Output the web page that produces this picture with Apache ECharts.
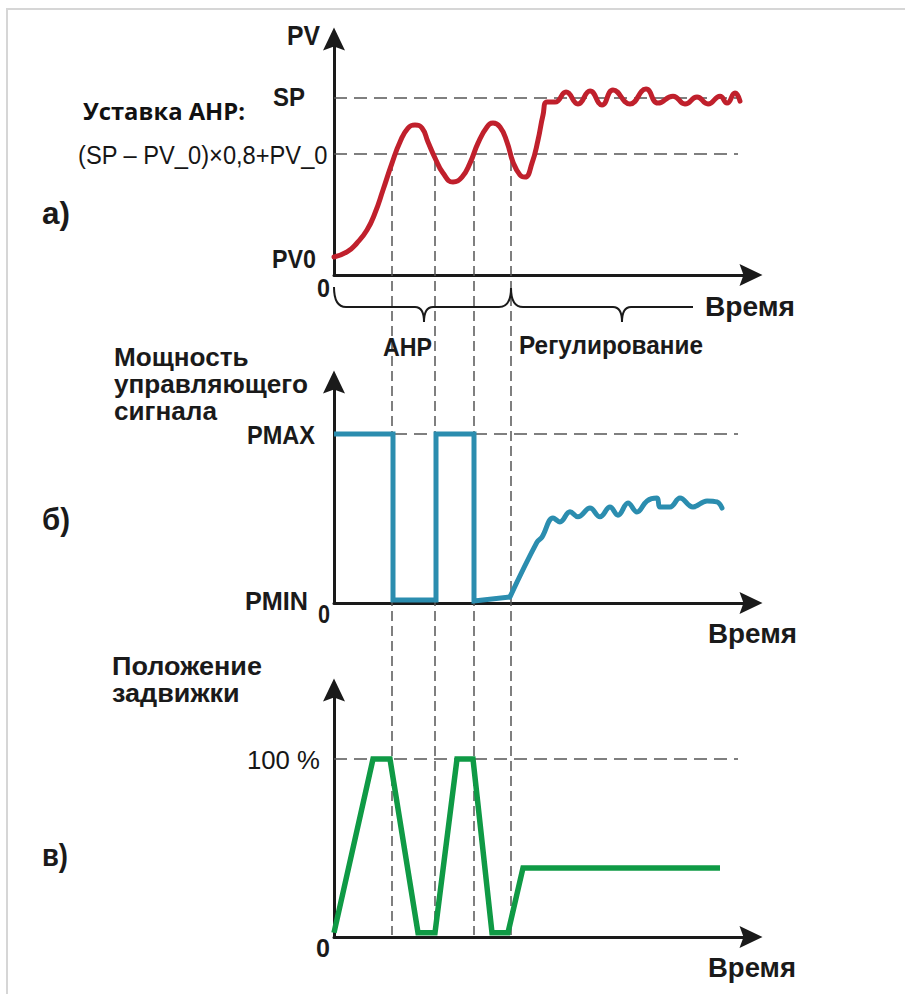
<!DOCTYPE html>
<html><head><meta charset="utf-8">
<script src="https://cdn.jsdelivr.net/npm/echarts@6/dist/echarts.min.js"></script>
<style>html,body{margin:0;padding:0;background:#fff}#c{width:905px;height:994px}</style>
</head><body><div id="c"></div>
<script>
// ---------- data (time in arbitrary units, values normalised: SP / PMAX / 100 % = 100) ----------
const pvTime  = [0, 13, 23, 33, 41, 49, 58, 66, 74, 81, 88, 94, 101, 109, 119, 128, 136, 144, 153, 159, 166, 173, 179, 186, 191, 198, 204, 209, 213, 221,
                 232, 244, 256, 268, 279, 296, 312, 324, 339, 351, 363, 374, 386, 393, 401, 406];
const pvValue = [10.2, 13, 18.1, 25.4, 35, 48, 63.2, 75.1, 83, 84.7, 83, 75.1, 66.1, 57.6, 52.5, 55.3, 63.2, 74.5, 83.6, 85.8, 83.6, 75.1, 63.8, 56.5, 55.3, 63.2, 76.2, 90.3, 97.7, 97.7,
                 103.3, 96.6, 103.9, 96, 104.5, 96.6, 105, 97.1, 101, 96.6, 100.5, 96.6, 101, 97.1, 102.8, 98.2];
const SP = 100, PV_TH = 68.3, PV0 = 10.2;

const pwStepTime  = [0, 59, 59, 102, 102, 140, 140, 176];
const pwStepValue = [100, 100, 1.8, 1.8, 100, 100, 1.2, 3.6];
const pwRegTime   = [176, 203, 208, 219, 226, 236, 244, 256, 266, 276, 284, 294, 303, 313, 323, 326, 336, 346, 359, 373, 383, 388];
const pwRegValue  = [3.6, 36, 39, 50.3, 48, 54, 51, 56.2, 51, 56.8, 52, 59.2, 53.8, 60.4, 62.1, 56.8, 56.8, 62.1, 56.8, 60.4, 59.8, 56.2];
const PMAX = 100;

const vTime  = [0, 39, 56, 84, 101, 123, 139, 158, 174, 189, 386];
const vValue = [2.4, 100, 100, 2.4, 2.4, 100, 100, 2.4, 2.4, 38.8, 38.8];
const V100 = 100;

const markTimes = [58, 101, 140, 177];      // vertical dashed guides
const braceTimes = [0, 177, 359];           // АНР / Регулирование brace ends
const braceTips = [90, 288];
const refEnd = 404;                         // end of horizontal dashed lines
const T_MAX = 417;
const yMax = [133.3, 130.8, 138.8];

const labels = {
  pv: 'PV', sp: 'SP', ust: 'Уставка АНР:', formula: '(SP – PV_0)×0,8+PV_0', pv0: 'PV0', zero: '0',
  a: 'а)', b: 'б)', c: 'в)', time: 'Время', anr: 'АНР', reg: 'Регулирование',
  power: 'Мощность\nуправляющего\nсигнала', pmax: 'PMAX', pmin: 'PMIN',
  valve: 'Положение\nзадвижки', p100: '100 %'
};

// ---------- styles ----------
const SANS = "'Liberation Sans', Arial, sans-serif";
const B26 = 'bold 26px ' + SANS, B28 = 'bold 28px ' + SANS, B31 = 'bold 31px ' + SANS;
const INK = '#1a1a1a';
const RED = '#c0202c', BLUE = '#2b8daf', GREEN = '#0f9a45', DASH = '#555';
const ARROW = 'path://M11,0 L22,23 L11,19 L0,23 Z';

const zip = (a, b) => a.map((v, i) => [v, b[i]]);
const grids = [
  {left: 334, top: 39, width: 417, height: 236},
  {left: 334, top: 382, width: 417, height: 221},
  {left: 334, top: 690, width: 417, height: 247}
];
const axisLine = {show: true, onZero: false, symbol: ['none', ARROW], symbolSize: [22, 23],
  lineStyle: {color: INK, width: 3}};
const xAxes = grids.map((g, i) => ({gridIndex: i, type: 'value', min: 0, max: T_MAX,
  axisLine, axisTick: {show: false}, axisLabel: {show: false}, splitLine: {show: false}}));
const yAxes = grids.map((g, i) => ({gridIndex: i, type: 'value', min: 0, max: yMax[i],
  axisLine, axisTick: {show: false}, axisLabel: {show: false}, splitLine: {show: false}}));

const refLine = (i, v) => ({type: 'line', xAxisIndex: i, yAxisIndex: i, data: [[0, v], [refEnd, v]],
  symbol: 'none', silent: true, z: 1, lineStyle: {color: DASH, width: 1.5, type: [13, 7]}});

const chart = echarts.init(document.getElementById('c'), null, {renderer: 'svg'});
chart.setOption({
  animation: false,
  backgroundColor: '#fff',
  grid: grids,
  xAxis: xAxes,
  yAxis: yAxes,
  series: [
    refLine(0, SP), refLine(0, PV_TH), refLine(1, PMAX), refLine(2, V100),
    {type: 'line', xAxisIndex: 0, yAxisIndex: 0, data: zip(pvTime, pvValue), smooth: 0.5,
      symbol: 'none', z: 3, lineStyle: {color: RED, width: 5, cap: 'round', join: 'round'}},
    {type: 'line', xAxisIndex: 1, yAxisIndex: 1, data: zip(pwStepTime, pwStepValue),
      symbol: 'none', z: 3, lineStyle: {color: BLUE, width: 5, cap: 'butt', join: 'miter'}},
    {type: 'line', xAxisIndex: 1, yAxisIndex: 1, data: zip(pwRegTime, pwRegValue), smooth: 0.4,
      symbol: 'none', z: 3, lineStyle: {color: BLUE, width: 5, cap: 'round', join: 'round'}},
    {type: 'line', xAxisIndex: 2, yAxisIndex: 2, data: zip(vTime, vValue),
      symbol: 'none', z: 3, lineStyle: {color: GREEN, width: 5.5, cap: 'butt', join: 'miter'}}
  ]
});

// ---------- annotations positioned through the axes' scales ----------
const px = (i, t, v) => chart.convertToPixel({gridIndex: i}, [t, v]);
const g = [];
const mctx = document.createElement('canvas').getContext('2d');
const widest = (s, font) => { mctx.font = font; return Math.max(...s.split('\n').map(l => mctx.measureText(l).width)); };
// text placed from its left edge, squeezed horizontally to the width it has in the reference
const txt = (x, y, s, font, w, o) => g.push({type: 'text', z: 10, x, y,
  scaleX: w ? w / widest(s, font) : 1,
  style: Object.assign({text: s, fill: INK, font, textAlign: 'left', textVerticalAlign: 'middle'}, o || {})});
const BR = {fill: 'none', stroke: INK, lineWidth: 2};
const seg = (x1, y1, x2, y2) => g.push({type: 'line', z: 10, shape: {x1, y1, x2, y2}, style: BR});
const qc = (x1, y1, cx, cy, x2, y2) => g.push({type: 'bezierCurve', z: 10,
  shape: {x1, y1, cpx1: cx, cpy1: cy, x2, y2}, style: BR});

// frame
g.push({type: 'rect', z: 0, shape: {x: 7, y: 9, width: 1000, height: 1100},
  style: {fill: 'none', stroke: '#d6d6d6', lineWidth: 2}});

// vertical guides
const yTop = px(0, 0, PV_TH)[1] + 7, yBot = px(2, 0, 0)[1] - 2;
markTimes.forEach(t => {
  const x = px(0, t, 0)[0];
  g.push({type: 'line', z: 1, shape: {x1: x, y1: yTop, x2: x, y2: yBot},
    style: {stroke: DASH, lineWidth: 1.5, lineDash: [10, 5]}});
});

// braces
const ax = px(0, 0, 0)[1];
const b0 = px(0, braceTimes[0], 0)[0], b1 = px(0, braceTimes[1], 0)[0], b2 = px(0, braceTimes[2], 0)[0];
const m0 = px(0, braceTips[0], 0)[0], m1 = px(0, braceTips[1], 0)[0];
const yT = ax + 12, yL = ax + 32, yB = ax + 47;
qc(b0, yT, b0, yL, b0 + 12, yL);
seg(b0 + 12, yL, m0 - 9, yL);
qc(m0 - 9, yL, m0, yL, m0, yB);
qc(m0, yB, m0, yL, m0 + 9, yL);
seg(m0 + 9, yL, b1 - 12, yL);
qc(b1 - 12, yL, b1, yL, b1, yT + 1);
qc(b1, yT + 1, b1, yL, b1 + 12, yL);
seg(b1 + 12, yL, m1 - 9, yL);
qc(m1 - 9, yL, m1, yL, m1, yB);
qc(m1, yB, m1, yL, m1 + 9, yL);
seg(m1 + 9, yL, b2, yL);

// panel a texts
txt(287, 35, labels.pv, B28, 33);
txt(273, px(0, 0, SP)[1] - 1, labels.sp, B26, 32);
txt(83, 111, labels.ust, 'bold 23px "Open Sans", sans-serif', 162, {fill: '#111'});
txt(78, px(0, 0, PV_TH)[1] + 1, labels.formula, '25px ' + SANS, 250, {fill: '#161616'});
txt(272, px(0, 0, PV0)[1] + 2, labels.pv0, B26, 44);
txt(317, ax + 13, labels.zero, B26, 13);
txt(42, 214, labels.a, B31, 28);
txt(705, ax + 32, labels.time, B28, 90);
txt(383, 347, labels.anr, B26, 49);
txt(519, 345, labels.reg, B26, 184);

// panel b texts
const bx = px(1, 0, 0)[1];
txt(114, 343.5, labels.power, B26, 194, {textVerticalAlign: 'top', lineHeight: 27});
txt(247, px(1, 0, PMAX)[1] + 1, labels.pmax, B26, 68);
txt(245, bx - 2, labels.pmin, B26, 63);
txt(318, bx + 11, labels.zero, B26, 12);
txt(42, 519, labels.b, B31, 28);
txt(708, bx + 30, labels.time, B28, 89);

// panel c texts
const cx = px(2, 0, 0)[1];
txt(112, 652.5, labels.valve, B26, 150, {textVerticalAlign: 'top', lineHeight: 27});
txt(247, px(2, 0, V100)[1] + 1, labels.p100, '26px ' + SANS, 73, {fill: '#161616'});
txt(316, cx + 11, labels.zero, B26, 14);
txt(42, 855, labels.c, B31, 26);
txt(708, cx + 30, labels.time, B28, 88);

chart.setOption({graphic: g});
</script></body></html>
